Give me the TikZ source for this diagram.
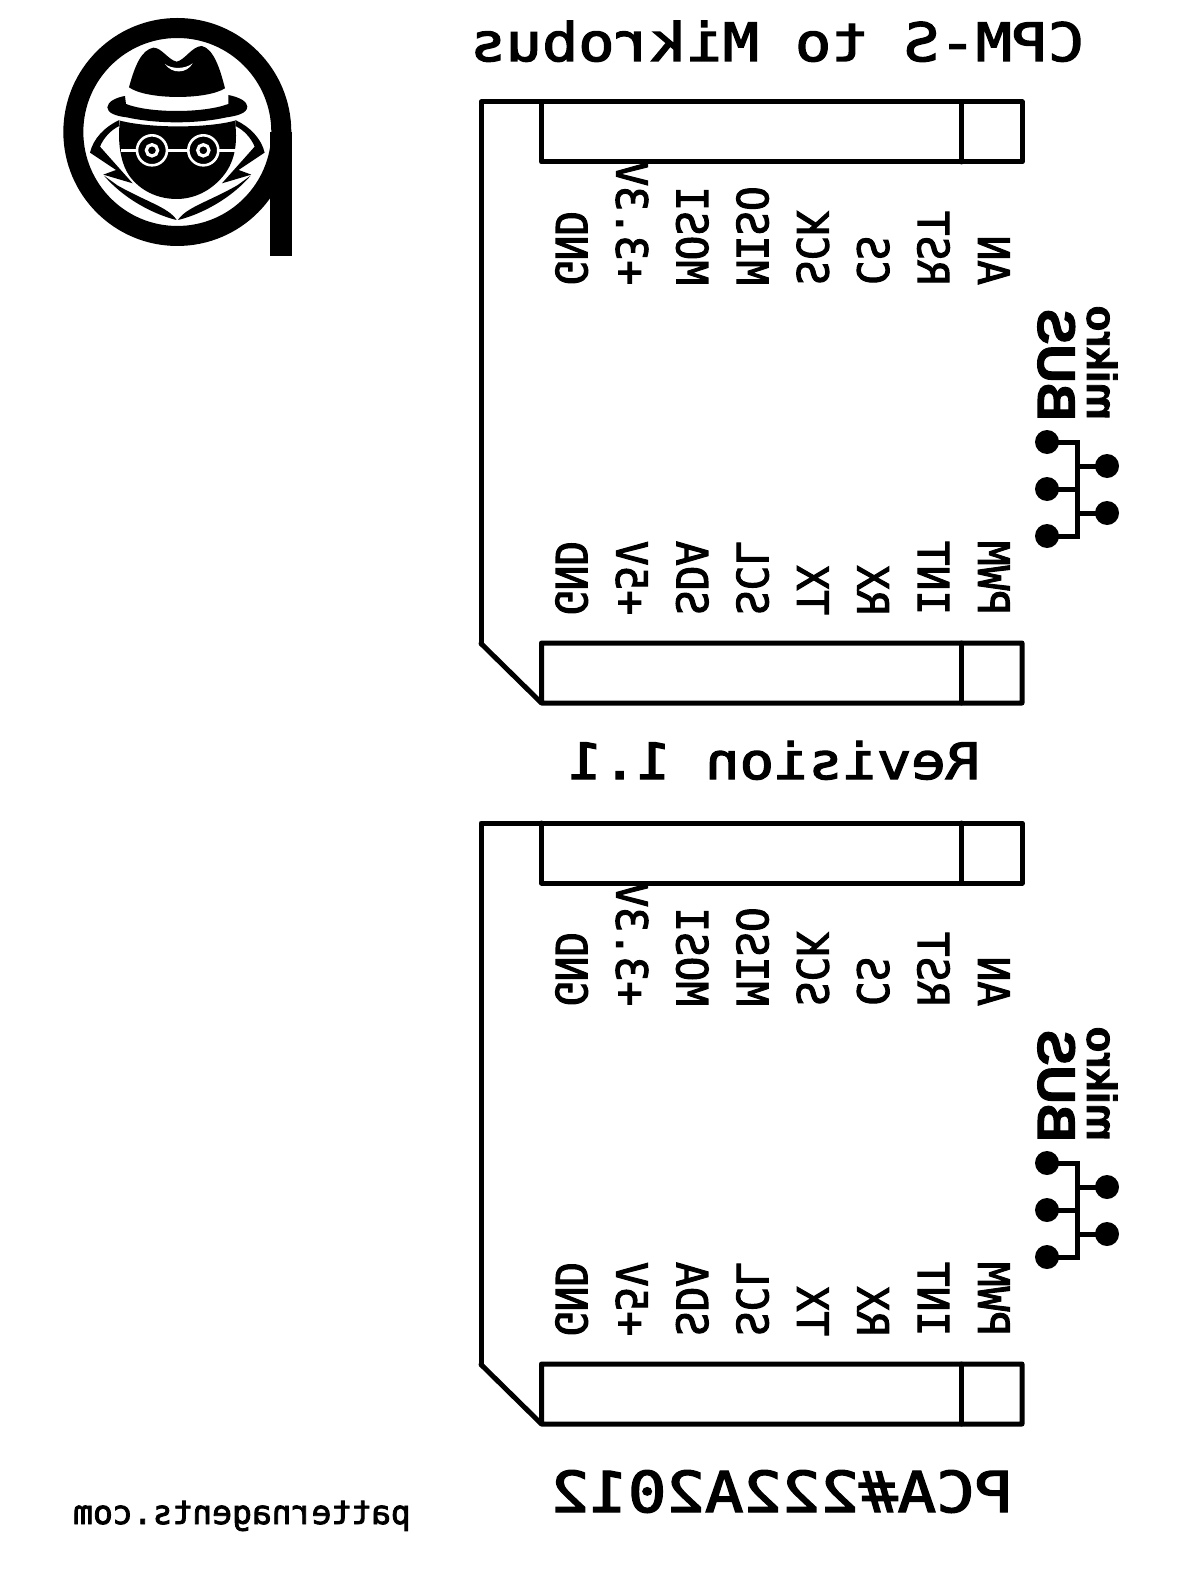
\documentclass[tikz,border=0pt]{standalone}
\usepackage{graphicx}
\usepackage{fontspec}
\newfontfamily\vectorfont[FakeBold=2.5]{DejaVu Sans Mono}
\newfontfamily\busfont[BoldFeatures={FakeBold=2}]{Liberation Sans}
\newcommand{\silk}[1]{\reflectbox{#1}}
\newcommand{\silkpin}[1]{\scalebox{-1}[1.05]{#1}}
\newcommand{\silktitle}[1]{\scalebox{-1}[0.88]{#1}}
\tikzset{
  outline/.style={draw=black,line width=5pt,line join=round,line cap=round},
  silktext/.style={inner sep=0pt,outer sep=0pt,anchor=base,font=\vectorfont},
  pinlabel/.style={inner sep=0pt,outer sep=0pt,rotate=-90,anchor=base east,font=\vectorfont\fontsize{41}{41}\selectfont},
  busdot/.style={circle,fill=black,inner sep=0pt,minimum size=24pt},
  busline/.style={draw=black,line width=5pt},
  buslabel/.style={inner sep=0pt,outer sep=0pt,rotate=-90,anchor=base east},
}
\begin{document}
\begin{tikzpicture}[x=1pt,y=-1pt]
  \useasboundingbox (0,0) rectangle (1179,1581);
  % logo
  \begin{scope}[shift={(40,0)},x=0.3333pt,y=-0.3333pt]
    \draw[line width=20pt] (412,396) circle (312);
    \fill (690,396) rectangle (755,768);
    \fill (267,262) .. controls (285,195) and (305,150) .. (340,143) .. controls (365,143) and (385,180) .. (410,185)
      .. controls (435,180) and (455,140) .. (485,138) .. controls (520,145) and (540,205) .. (555,265)
      .. controls (500,300) and (320,300) .. (267,262) -- cycle;
    \fill[white] (375,192) .. controls (395,208) and (435,208) .. (458,190) .. controls (440,222) and (395,222) .. (375,192) -- cycle;
    \fill (255,288) -- (258,312) .. controls (330,340) and (490,340) .. (565,312) -- (565,285)
      .. controls (600,292) and (622,305) .. (622,320) .. controls (622,340) and (590,348) .. (560,352)
      .. controls (470,372) and (350,372) .. (260,352) .. controls (225,348) and (202,338) .. (202,322)
      .. controls (202,305) and (230,292) .. (255,288) -- cycle;
    % face
    \fill (240,362) .. controls (330,385) and (500,385) .. (585,362) .. controls (592,420) and (590,480) .. (548,530)
      .. controls (510,575) and (460,597) .. (410,597) .. controls (350,597) and (300,570) .. (270,530)
      .. controls (240,490) and (232,420) .. (240,362) -- cycle;
    % glasses
    \draw[white,line width=2.6pt] (336,451) circle (45);
    \draw[white,line width=2.6pt] (490,451) circle (45);
    \draw[white,line width=3.2pt] (336,451) circle (17);
    \draw[white,line width=3.2pt] (490,451) circle (17);
    \draw[white,line width=2.6pt] (242,452) -- (291,452) (381,452) -- (445,452) (535,452) -- (590,452);
    % lapels
    \foreach \flip in {1,-1}{
      \begin{scope}[shift={(412,0)},xscale=\flip]
        \fill (-174,360) .. controls (-217,380) and (-252,415) .. (-262,458) -- (-184,510) -- (-222,524) -- (-134,550)
          -- (-232,440) .. controls (-222,415) and (-200,390) .. (-174,378) -- cycle;
        \fill (-180,556) .. controls (-92,606) and (-27,622) .. (-2,660) .. controls (-46,650) and (-146,612) .. (-220,527) -- cycle;
      \end{scope}
    }
  \end{scope}
  % boards
  \foreach \brd/\shft in {a/0,b/721}{
    \begin{scope}[yshift=-\shft pt]
      \draw[outline] (481,643.5) -- (481,102) -- (1022,102) -- (1022,162) -- (541.5,162) -- (541.5,102);
      \draw[outline] (961.5,102) -- (961.5,162);
      \draw[outline] (481,643.5) -- (541.5,703) -- (1022,703) -- (1022,643) -- (541.5,643) -- (541.5,703);
      \draw[outline] (961.5,643) -- (961.5,703);
      \foreach \idx/\lab/\labb in {0/GND/GND,1/+3.3V/+5V,2/MOSI/SDA,3/MISO/SCL,4/SCK/TX,5/CS/RX,6/RST/INT,7/AN/PWM}{
        \node[pinlabel] (pin\brd\idx) at ({556+60.3*\idx},285) {\silkpin{\lab}};
        \node[pinlabel] (pinb\brd\idx) at ({556+60.3*\idx},615) {\silkpin{\labb}};
      }
      % bus logo
      \node[buslabel,font=\busfont\bfseries\fontsize{53}{53}\selectfont] (bus\brd) at (1038,421) {\silk{BUS}};
      \node[buslabel,font=\busfont\bfseries\fontsize{42}{42}\selectfont] (mikro\brd) at (1087,420) {\silk{mikro}};
      \node[busdot] (dl\brd1) at (1047,442) {};
      \node[busdot] (dl\brd2) at (1047,489) {};
      \node[busdot] (dl\brd3) at (1047,536) {};
      \node[busdot] (dr\brd1) at (1107,466) {};
      \node[busdot] (dr\brd2) at (1107,513) {};
      \coordinate (tr\brd) at (1077,489);
      \draw[busline] (dl\brd1.center) -| (tr\brd) |- (dl\brd3.center);
      \draw[busline] (dl\brd2.center) -- (tr\brd);
      \draw[busline] (dr\brd1.center) -- (dr\brd1 -| tr\brd);
      \draw[busline] (dr\brd2.center) -- (dr\brd2 -| tr\brd);
    \end{scope}
  }
  % titles
  \node[silktext,font=\vectorfont\fontsize{60}{60}\selectfont] (title) at (777,61) {\silktitle{CPM-S to Mikrobus}};
  \node[silktext,font=\vectorfont\fontsize{57}{57}\selectfont] (revision) at (774,779) {\silktitle{Revision 1.1}};
  \node[silktext,font=\vectorfont\fontsize{64}{64}\selectfont] (pca) at (782,1512) {\silktitle{PCA\#222A2012}};
  \node[silktext,font=\vectorfont\fontsize{33}{33}\selectfont] (website) at (242,1524) {\silk{patternagents.com}};
\end{tikzpicture}
\end{document}
